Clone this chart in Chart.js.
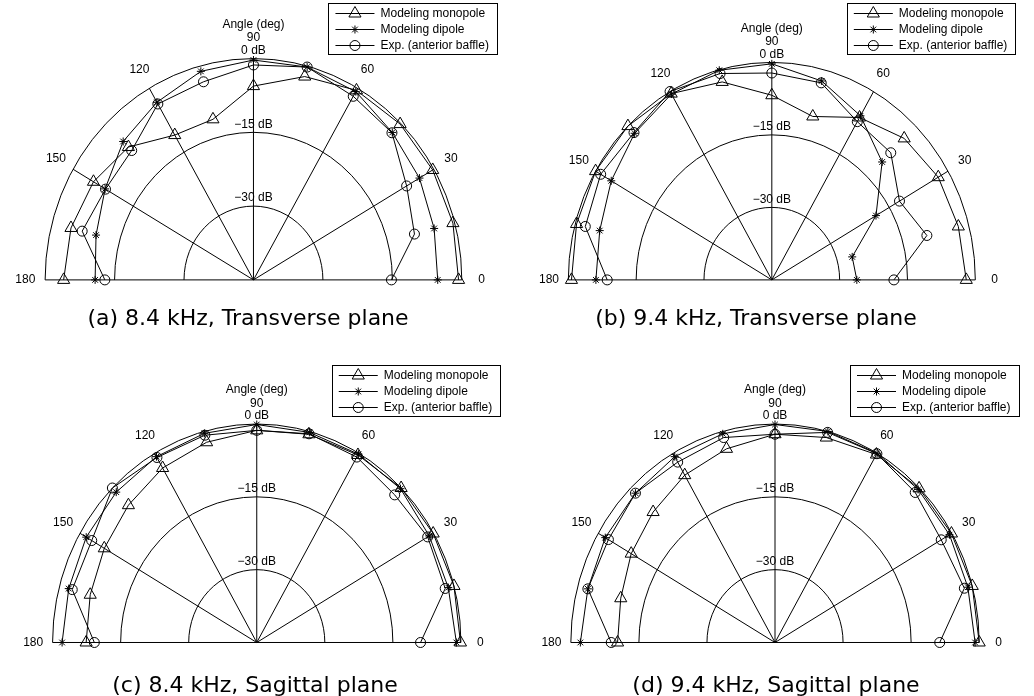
<!DOCTYPE html>
<html>
<head>
<meta charset="utf-8">
<script src="https://cdn.jsdelivr.net/npm/chart.js@4.4.1/dist/chart.umd.min.js"></script>
<style>
body{margin:0;background:#fff;}
#wrap{position:relative;width:1034px;height:696px;overflow:hidden;background:#fff;}
canvas{position:absolute;}
.cap{position:absolute;font-family:'DejaVu Sans';font-size:22px;line-height:22px;color:#000;white-space:nowrap;transform:translateX(-50%);}
</style>
</head>
<body>
<div id="wrap">
  <canvas id="cA" width="517" height="348" style="left:0px;top:0px"></canvas>
  <canvas id="cB" width="517" height="348" style="left:517px;top:0px"></canvas>
  <canvas id="cC" width="517" height="348" style="left:0px;top:348px"></canvas>
  <canvas id="cD" width="517" height="348" style="left:517px;top:348px"></canvas>
  <div class="cap" style="left:248px;top:307px">(a) 8.4 kHz, Transverse plane</div>
  <div class="cap" style="left:756px;top:307px">(b) 9.4 kHz, Transverse plane</div>
  <div class="cap" style="left:255px;top:674px">(c) 8.4 kHz, Sagittal plane</div>
  <div class="cap" style="left:776px;top:674px">(d) 9.4 kHz, Sagittal plane</div>
</div>
<script>
// angles (deg) and levels (dB)
var angles = [0, 15, 30, 45, 60, 75, 90, 105, 120, 135, 150, 165, 180];
var seriesNames = ['Modeling monopole', 'Modeling dipole', 'Exp. (anterior baffle)'];
var spokeAngles = [0, 30, 60, 90, 120, 150, 180];
var angleLabels = ['0', '30', '60', '90', '120', '150', '180'];
var ringLevels = [0, -15, -30];
var ringLabels = ['0 dB', '\u221215 dB', '\u221230 dB'];
var dbMin = -45, dbMax = 0;

// (a) 8.4 kHz transverse
var monoA = [-0.7, -0.4, -0.3, -0.2, -0.5, -2.2, -5.6, -11.2, -11.0, -6.8, -5.1, -4.2, -4.0];
var dipA  = [-5.2, -4.6, -3.6, -2.6, -0.8, -0.2, -0.3, -1.1, -3.3, -5.2, -8.0, -9.8, -10.8];
var expA  = [-15.2, -9.0, -6.8, -2.7, -1.9, -0.2, -1.3, -3.3, -3.7, -7.8, -8.1, -6.7, -12.9];
// (b) 9.4 kHz transverse
var monoB = [-2.0, -2.3, -2.5, -3.6, -6.2, -10.0, -6.8, -2.6, -0.5, 0, 0, -0.3, -0.7];
var dipB  = [-26.2, -26.6, -18.4, -10.5, -5.8, -2.4, -0.3, -0.1, -0.6, -2.1, -4.0, -5.6, -6.1];
var expB  = [-18.0, -9.5, -12.4, -7.8, -7.2, -2.8, -2.2, -0.8, 0, -1.9, -1.3, -2.3, -8.6];
// (c) 8.4 kHz sagittal
var monoC = [-0.1, 0, -0.1, 0, -0.4, -0.6, -1.3, -2.3, -3.5, -5.0, -6.2, -7.0, -7.4];
var dipC  = [-1.0, -1.3, -1.1, -0.2, -0.2, -0.2, -0.1, -0.4, -0.8, -1.2, -1.6, -2.1, -2.1];
var expC  = [-8.9, -2.0, -1.5, -2.0, -0.9, -0.5, -1.3, -0.8, -1.0, 0, -3.0, -2.9, -9.2];
// (d) 9.4 kHz sagittal
var monoD = [0, 0, -0.1, -0.1, -0.3, -1.3, -2.1, -3.7, -5.2, -7.0, -8.4, -9.8, -10.3];
var dipD  = [-0.9, -1.0, -0.6, -0.4, 0, 0, -0.1, -0.5, -0.8, -1.5, -1.8, -2.3, -2.1];
var expD  = [-8.7, -1.8, -2.7, -1.3, -0.1, -0.2, -2.1, -1.3, -2.1, -1.5, -2.6, -2.3, -8.9];

var markers = [
  {pointStyle: 'triangle', radius: 7},
  {pointStyle: 'star', radius: 4},
  {pointStyle: 'circle', radius: 5}
];

function radius(db) {
  return (db - dbMin) / (dbMax - dbMin);
}

// polar (angle, dB) -> x/y in plot units
function toXY(db) {
  var pts = [];
  for (var i = 0; i < angles.length; i++) {
    var r = radius(db[i]);
    var t = angles[i] * Math.PI / 180;
    pts.push({x: r * Math.cos(t), y: r * Math.sin(t)});
  }
  return pts;
}

var font = "12px 'Liberation Sans', Arial, sans-serif";

var polarGrid = {
  id: 'polarGrid',
  beforeDatasetsDraw: function (chart) {
    var ctx = chart.ctx;
    var sx = chart.scales.x, sy = chart.scales.y;
    var cx = sx.getPixelForValue(0), cy = sy.getPixelForValue(0);
    function px(r, a) {
      var t = a * Math.PI / 180;
      return [sx.getPixelForValue(r * Math.cos(t)), sy.getPixelForValue(r * Math.sin(t))];
    }
    ctx.save();
    ctx.strokeStyle = '#000';
    ctx.lineWidth = 1;
    // rings
    ringLevels.forEach(function (db) {
      var r = radius(db);
      var rx = sx.getPixelForValue(r) - cx;
      var ry = cy - sy.getPixelForValue(r);
      ctx.beginPath();
      ctx.ellipse(cx, cy, rx, ry, 0, Math.PI, 2 * Math.PI);
      ctx.stroke();
    });
    // spokes
    spokeAngles.forEach(function (a) {
      var p = px(1, a);
      ctx.beginPath();
      ctx.moveTo(cx, cy);
      ctx.lineTo(p[0], p[1]);
      ctx.stroke();
    });
    ctx.fillStyle = '#000';
    ctx.font = font;
    ctx.textAlign = 'center';
    ctx.textBaseline = 'middle';
    // angle labels
    spokeAngles.forEach(function (a, i) {
      var p = px(1.095, a);
      ctx.fillText(angleLabels[i], p[0], p[1]);
    });
    // dB labels
    ringLevels.forEach(function (db, i) {
      var p = px(radius(db) + 0.036, 90);
      ctx.fillText(ringLabels[i], p[0], p[1]);
    });
    var p = px(1.155, 90);
    ctx.fillText('Angle (deg)', p[0], p[1]);
    ctx.restore();
  },
  afterDatasetsDraw: function (chart) {
    // legend box top right
    var ctx = chart.ctx;
    var cx = chart.scales.x.getPixelForValue(0), cy = chart.scales.y.getPixelForValue(0);
    var left = Math.round(cx + 75), top = Math.round(cy - 277);
    var textX = cx + 127;
    ctx.save();
    ctx.font = font;
    var w = 0;
    chart.data.datasets.forEach(function (d) {
      w = Math.max(w, ctx.measureText(d.label).width);
    });
    var bw = Math.round(textX + w + 8 - left);
    ctx.fillStyle = '#fff';
    ctx.fillRect(left, top, bw, 51);
    ctx.strokeStyle = '#000';
    ctx.lineWidth = 1;
    ctx.strokeRect(left + 0.5, top + 0.5, bw, 51);
    chart.data.datasets.forEach(function (d, i) {
      var y = Math.round(top + 10 + i * 16) + 0.5;
      ctx.beginPath();
      ctx.moveTo(cx + 82, y);
      ctx.lineTo(cx + 121, y);
      ctx.stroke();
      ctx.fillStyle = 'rgba(0,0,0,0)';
      Chart.helpers.drawPoint(ctx, {pointStyle: d.pointStyle, radius: d.pointRadius, borderWidth: 1, rotation: 0}, cx + 101.5, y);
      ctx.fillStyle = '#000';
      ctx.textAlign = 'left';
      ctx.textBaseline = 'middle';
      ctx.fillText(d.label, textX, y);
    });
    ctx.restore();
  }
};

function makePanel(id, cx, cy, rx, ry, series) {
  var el = document.getElementById(id);
  var W = el.width, H = el.height;
  var sets = [];
  for (var i = 0; i < series.length; i++) {
    sets.push({
      label: seriesNames[i],
      data: toXY(series[i]),
      showLine: true,
      borderColor: '#000',
      borderWidth: 1,
      backgroundColor: 'rgba(0,0,0,0)',
      pointStyle: markers[i].pointStyle,
      pointRadius: markers[i].radius,
      pointBorderColor: '#000',
      pointBorderWidth: 1,
      pointBackgroundColor: 'rgba(0,0,0,0)',
      tension: 0
    });
  }
  return new Chart(el.getContext('2d'), {
    type: 'scatter',
    data: {datasets: sets},
    options: {
      responsive: false,
      animation: false,
      layout: {padding: 0},
      plugins: {legend: {display: false}, tooltip: {enabled: false}, title: {display: false}},
      scales: {
        x: {type: 'linear', display: false, min: -cx / rx, max: (W - cx) / rx},
        y: {type: 'linear', display: false, min: -(H - cy) / ry, max: cy / ry}
      }
    },
    plugins: [polarGrid]
  });
}

makePanel('cA', 253.3, 285, 215, 232, [monoA, dipA, expA]);
makePanel('cB', 254.7, 285, 210, 228, [monoB, dipB, expB]);
makePanel('cC', 256.7, 300.3, 210.7, 229, [monoC, dipC, expC]);
makePanel('cD', 258, 300.3, 210.7, 229, [monoD, dipD, expD]);
</script>
</body>
</html>
